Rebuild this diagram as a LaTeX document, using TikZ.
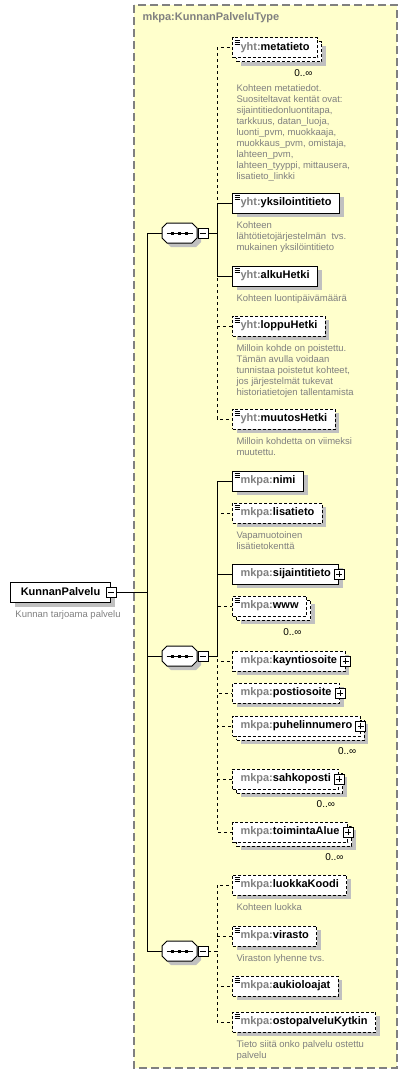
\documentclass[tikz,border=0pt]{standalone}
\usepackage{fontspec}
\setmainfont{Liberation Sans}
\usetikzlibrary{positioning,shadows,shapes.misc}

\definecolor{typebg}{RGB}{255,255,204}
\definecolor{prefixgray}{RGB}{128,128,128}
\definecolor{descgray}{RGB}{128,128,128}
\definecolor{shadowgray}{RGB}{192,192,192}
\definecolor{framegray}{RGB}{128,128,128}

\newcommand{\elemfont}{\fontsize{11}{13}\selectfont\bfseries}
\newcommand{\descfont}{\fontsize{9.5}{11}\selectfont}
\newcommand{\occfont}{\fontsize{10}{12}\selectfont}
\newcommand{\qname}[2]{{\color{prefixgray}#1:}#2}

\begin{document}
\begin{tikzpicture}[x=1pt, y=-1pt, line width=1pt,
    elem/.style={draw, fill=white, anchor=west, font=\elemfont, minimum height=20pt, inner xsep=8pt, inner ysep=0pt, text height=8pt, text depth=2.5pt, drop shadow={shadow xshift=4pt, shadow yshift=-4pt, fill=shadowgray, opacity=1}},
    opt/.style={dash pattern=on 3pt off 2pt},
    multi/.style={drop shadow={shadow xshift=8pt, shadow yshift=-8pt, fill=shadowgray, opacity=1}, copy shadow={shadow xshift=4pt, shadow yshift=-4pt}},
    simple/.style={path picture={\foreach \dy in {2.5,4.5,6.5} \draw[solid, black, line width=0.7pt] ([xshift=2pt, yshift=-\dy pt]path picture bounding box.north west) -- ++(5pt,0pt);}},
    plusbox/.style={draw, solid, fill=white, minimum size=10pt, inner sep=0pt, line width=0.8pt, path picture={\draw[black, line width=0.8pt] ([xshift=2pt]path picture bounding box.west) -- ([xshift=-2pt]path picture bounding box.east) ([yshift=-2pt]path picture bounding box.north) -- ([yshift=2pt]path picture bounding box.south);}},
    minusbox/.style={draw, solid, fill=white, minimum size=10pt, inner sep=0pt, line width=0.8pt, path picture={\draw[black, line width=0.8pt] ([xshift=2pt]path picture bounding box.west) -- ([xshift=-2pt]path picture bounding box.east);}},
    seqbox/.style={draw, fill=white, chamfered rectangle, chamfered rectangle xsep=2.5pt, chamfered rectangle ysep=2.5pt, inner sep=0pt, text width=30pt, text height=15pt, text depth=0pt, drop shadow={shadow xshift=4pt, shadow yshift=-4pt, fill=shadowgray, opacity=1}, path picture={\draw[black] ([xshift=-13pt]path picture bounding box.center) -- ([xshift=13pt]path picture bounding box.center); \foreach \dx in {-8.5,-1.5,5.5} \fill[black] ([xshift=\dx pt, yshift=1.5pt]path picture bounding box.center) rectangle ++(3pt,-3pt);}},
    desc/.style={font=\descfont, text=descgray, align=left, inner sep=0pt},
    occ/.style={font=\occfont, inner sep=0pt},
    optconn/.style={dash pattern=on 3pt off 3pt}]
        \useasboundingbox (0,0) rectangle (407,1074);
        \draw[framegray, fill=typebg, dash pattern=on 8pt off 4pt, line width=1.2pt] (134,5) rectangle (397,1068);

        % Define nodes
        \node (typename) [anchor=west, inner sep=0pt, font=\elemfont, text=prefixgray] at (142,18) {mkpa:KunnanPalveluType};

        \node (kunnanpalvelu) [elem, minimum width=100pt] at (10,592.5) {KunnanPalvelu};
        \node (kunnanpalvelu-minus) [minusbox] at (kunnanpalvelu.east) {};
        \node (kunnanpalvelu-desc) [desc, below right=7.5pt and 5pt of kunnanpalvelu.south west] {Kunnan tarjoama palvelu};

        \node (seq1) [seqbox] at (179.5,233) {};
        \node (seq1-minus) [minusbox, right=0pt of seq1] {};
        \node (seq2) [seqbox] at (179.5,656) {};
        \node (seq2-minus) [minusbox, right=0pt of seq2] {};
        \node (seq3) [seqbox] at (179.5,951) {};
        \node (seq3-minus) [minusbox, right=0pt of seq3] {};

        \node (metatieto) [elem, opt, multi, simple] at (232,47.5) {\qname{yht}{metatieto}};
        \node (metatieto-occ) [occ, below left=11pt and 5pt of metatieto.south east] {0..∞};
        \node (metatieto-desc) [desc, below right=26pt and 4pt of metatieto.south west] {Kohteen metatiedot.\\Suositeltavat kentät ovat:\\sijaintitiedonluontitapa,\\tarkkuus, datan\_luoja,\\luonti\_pvm, muokkaaja,\\muokkaus\_pvm, omistaja,\\lahteen\_pvm,\\lahteen\_tyyppi, mittausera,\\lisatieto\_linkki};
        \node (yksilointitieto) [elem, simple] at (232,203) {\qname{yht}{yksilointitieto}};
        \node (yksilointitieto-desc) [desc, below right=7.5pt and 4pt of yksilointitieto.south west] {Kohteen\\lähtötietojärjestelmän\ \ tvs.\\mukainen yksilöintitieto};
        \node (alkuhetki) [elem, simple] at (232,276) {\qname{yht}{alkuHetki}};
        \node (alkuhetki-desc) [desc, below right=7.5pt and 4pt of alkuhetki.south west] {Kohteen luontipäivämäärä};
        \node (loppuhetki) [elem, opt, simple] at (232,326) {\qname{yht}{loppuHetki}};
        \node (loppuhetki-desc) [desc, below right=7.5pt and 4pt of loppuhetki.south west] {Milloin kohde on poistettu.\\Tämän avulla voidaan\\tunnistaa poistetut kohteet,\\jos järjestelmät tukevat\\historiatietojen tallentamista};
        \node (muutoshetki) [elem, opt, simple] at (232,419) {\qname{yht}{muutosHetki}};
        \node (muutoshetki-desc) [desc, below right=7.5pt and 4pt of muutoshetki.south west] {Milloin kohdetta on viimeksi\\muutettu.};

        \node (nimi) [elem, simple] at (232,481) {\qname{mkpa}{nimi}};
        \node (lisatieto) [elem, opt, simple] at (232,513) {\qname{mkpa}{lisatieto}};
        \node (lisatieto-desc) [desc, below right=7.5pt and 4pt of lisatieto.south west] {Vapamuotoinen\\lisätietokenttä};
        \node (sijaintitieto) [elem] at (232,574) {\qname{mkpa}{sijaintitieto}\hspace{6pt}};
        \node (sijaintitieto-plus) [plusbox] at (sijaintitieto.east) {};
        \node (www) [elem, opt, multi, simple] at (232,606) {\qname{mkpa}{www}};
        \node (www-occ) [occ, below left=12pt and 5pt of www.south east] {0..∞};
        \node (kayntiosoite) [elem, opt] at (232,661) {\qname{mkpa}{kayntiosoite}\hspace{6pt}};
        \node (kayntiosoite-plus) [plusbox] at (kayntiosoite.east) {};
        \node (postiosoite) [elem, opt] at (232,693) {\qname{mkpa}{postiosoite}\hspace{6pt}};
        \node (postiosoite-plus) [plusbox] at (postiosoite.east) {};
        \node (puhelinnumero) [elem, opt, multi] at (232,726) {\qname{mkpa}{puhelinnumero}\hspace{6pt}};
        \node (puhelinnumero-plus) [plusbox] at (puhelinnumero.east) {};
        \node (puhelinnumero-occ) [occ, below left=11pt and 4pt of puhelinnumero.south east] {0..∞};
        \node (sahkoposti) [elem, opt, multi] at (232,779) {\qname{mkpa}{sahkoposti}\hspace{6pt}};
        \node (sahkoposti-plus) [plusbox] at (sahkoposti.east) {};
        \node (sahkoposti-occ) [occ, below left=11pt and 4pt of sahkoposti.south east] {0..∞};
        \node (toimintaalue) [elem, opt, multi] at (232,832) {\qname{mkpa}{toimintaAlue}\hspace{6pt}};
        \node (toimintaalue-plus) [plusbox] at (toimintaalue.east) {};
        \node (toimintaalue-occ) [occ, below left=11pt and 4pt of toimintaalue.south east] {0..∞};

        \node (luokkakoodi) [elem, opt, simple] at (232,885) {\qname{mkpa}{luokkaKoodi}};
        \node (luokkakoodi-desc) [desc, below right=7.5pt and 4pt of luokkakoodi.south west] {Kohteen luokka};
        \node (virasto) [elem, opt, simple] at (232,936) {\qname{mkpa}{virasto}};
        \node (virasto-desc) [desc, below right=7.5pt and 4pt of virasto.south west] {Viraston lyhenne tvs.};
        \node (aukioloajat) [elem, opt, simple] at (232,986) {\qname{mkpa}{aukioloajat}};
        \node (ostopalvelukytkin) [elem, opt, simple] at (232,1022) {\qname{mkpa}{ostopalveluKytkin}};
        \node (ostopalvelukytkin-desc) [desc, below right=7.5pt and 4pt of ostopalvelukytkin.south west] {Tieto siitä onko palvelu ostettu\\palvelu};

        \coordinate (trunk) at (147,0);
        \coordinate (bus) at (217,0);

        % Draw connectors
        \draw (kunnanpalvelu-minus.east) -- (kunnanpalvelu-minus.east -| trunk) |- (seq1.west);
        \draw (kunnanpalvelu-minus.east) -- (kunnanpalvelu-minus.east -| trunk) |- (seq2.west);
        \draw (kunnanpalvelu-minus.east) -- (kunnanpalvelu-minus.east -| trunk) |- (seq3.west);

        \draw[optconn] (seq1-minus.east) -- (seq1-minus.east -| bus) |- (metatieto.west);
        \draw[optconn] (seq1-minus.east) -- (seq1-minus.east -| bus) |- (loppuhetki.west);
        \draw[optconn] (seq1-minus.east) -- (seq1-minus.east -| bus) |- (muutoshetki.west);
        \draw (seq1-minus.east) -- (seq1-minus.east -| bus) |- (yksilointitieto.west);
        \draw (seq1-minus.east) -- (seq1-minus.east -| bus) |- (alkuhetki.west);

        \draw[optconn] (seq2-minus.east) -- (seq2-minus.east -| bus) |- (lisatieto.west);
        \draw[optconn] (seq2-minus.east) -- (seq2-minus.east -| bus) |- (www.west);
        \draw[optconn] (seq2-minus.east) -- (seq2-minus.east -| bus) |- (kayntiosoite.west);
        \draw[optconn] (seq2-minus.east) -- (seq2-minus.east -| bus) |- (postiosoite.west);
        \draw[optconn] (seq2-minus.east) -- (seq2-minus.east -| bus) |- (puhelinnumero.west);
        \draw[optconn] (seq2-minus.east) -- (seq2-minus.east -| bus) |- (sahkoposti.west);
        \draw[optconn] (seq2-minus.east) -- (seq2-minus.east -| bus) |- (toimintaalue.west);
        \draw (seq2-minus.east) -- (seq2-minus.east -| bus) |- (nimi.west);
        \draw (seq2-minus.east) -- (seq2-minus.east -| bus) |- (sijaintitieto.west);

        \draw[optconn] (seq3-minus.east) -- (seq3-minus.east -| bus) |- (luokkakoodi.west);
        \draw[optconn] (seq3-minus.east) -- (seq3-minus.east -| bus) |- (virasto.west);
        \draw[optconn] (seq3-minus.east) -- (seq3-minus.east -| bus) |- (aukioloajat.west);
        \draw[optconn] (seq3-minus.east) -- (seq3-minus.east -| bus) |- (ostopalvelukytkin.west);
    \end{tikzpicture}
\end{document}
